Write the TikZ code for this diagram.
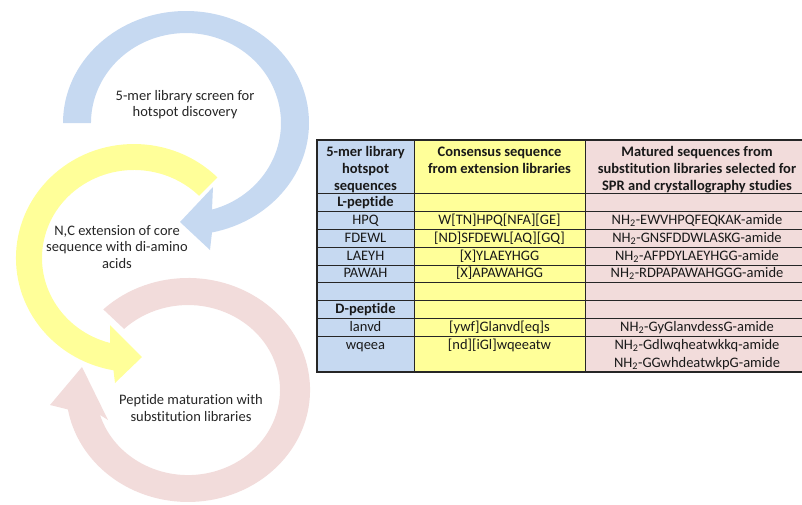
\documentclass[tikz,border=0pt]{standalone}
\usepackage{fontspec}
\setmainfont[Ligatures={NoCommon}]{Carlito}
\definecolor{arcblue}{HTML}{C6D9F1}
\definecolor{arcyellow}{HTML}{FFFF99}
\definecolor{arcpink}{HTML}{F2DCDB}
\definecolor{cellblue}{HTML}{C6D9F1}
\definecolor{cellyellow}{HTML}{FFFF99}
\definecolor{cellpink}{HTML}{F2DCDB}
\begin{document}
\begin{tikzpicture}[x=1pt,y=-1pt,
  lbl/.style={align=center,inner sep=0pt,font=\fontsize{14.5}{16.2}\selectfont,text=black!85},
  tx/.style={anchor=base,inner sep=0pt,font=\fontsize{14.5}{17.6}\selectfont,text=black!90},
  txb/.style={tx,font=\fontsize{14.5}{17.6}\selectfont\bfseries},
  gridline/.style={line width=0.9pt,draw=black!85},
  border/.style={line width=1.5pt,draw=black!85}]
\useasboundingbox (0,0) rectangle (802,504);
\clip (0,0) rectangle (802,504);
% circular arrows
\fill[arcpink] (103.3,309.4) arc[start angle=226,end angle=530,x radius=122,y radius=112]
  -- (50,405) -- (82,367) -- (108,420) -- (100,414.9)
  arc[start angle=523,end angle=226,x radius=92,y radius=85] -- cycle;
\fill[arcyellow] (217.4,177.4) arc[start angle=315,end angle=100,x radius=118,y radius=114]
  -- (115,383) -- (142,357) -- (110,325) -- (110.2,343.0)
  arc[start angle=105,end angle=315,x radius=92,y radius=88] -- cycle;
\fill[arcblue] (63,123) arc[start angle=180,end angle=437.8,x radius=123,y radius=112]
  -- (210,250) -- (180,222) -- (213,187) -- (212,209.6)
  arc[start angle=434.1,end angle=180,x radius=95,y radius=90] -- cycle;
\node[lbl] (lblue) at (185,105) {5-mer library screen for\\hotspot discovery};
\node[lbl] (lyellow) at (117,247) {N,C extension of core\\sequence with di-amino\\acids};
\node[lbl] (lpink) at (191,408) {Peptide maturation with\\substitution libraries};
% table
\fill[cellblue] (317,140) rectangle (414,372);
\fill[cellyellow] (414,140) rectangle (585,372);
\fill[cellpink] (585,140) rectangle (812,372);
\foreach \yy in {193,211,229,247,265,282,300,318,336}
  \draw[gridline] (317,\yy) -- (812,\yy);
\draw[gridline] (414,140) -- (414,372);
\draw[gridline] (585,140) -- (585,372);
\draw[border] (317,140) rectangle (812,372);
% header
\node[txb] (h1a) at (365.5,156) {5-mer library};
\node[txb] (h1b) at (365.5,173) {hotspot};
\node[txb] (h1c) at (365.5,190) {sequences};
\node[txb] (h2a) at (499.5,156) {Consensus sequence};
\node[txb] (h2b) at (499.5,173) {from extension libraries};
\node[txb] (h3a) at (697,156) {Matured sequences from};
\node[txb] (h3b) at (697,173) {substitution libraries selected for};
\node[txb] (h3c) at (697,190) {SPR and crystallography studies};
% body
\node[txb] (lpep) at (365.5,206.5) {L-peptide};
\node[tx] (r1a) at (365.5,224.5) {HPQ};
\node[tx] (r1b) at (499.5,224.5) {W[TN]HPQ[NFA][GE]};
\node[tx] (r1c) at (697,224.5) {NH\textsubscript{2}-EWVHPQFEQKAK-amide};
\node[tx] (r2a) at (365.5,242.5) {FDEWL};
\node[tx] (r2b) at (499.5,242.5) {[ND]SFDEWL[AQ][GQ]};
\node[tx] (r2c) at (697,242.5) {NH\textsubscript{2}-GNSFDDWLASKG-amide};
\node[tx] (r3a) at (365.5,260.5) {LAEYH};
\node[tx] (r3b) at (499.5,260.5) {[X]YLAEYHGG};
\node[tx] (r3c) at (697,260.5) {NH\textsubscript{2}-AFPDYLAEYHGG-amide};
\node[tx] (r4a) at (365.5,277.5) {PAWAH};
\node[tx] (r4b) at (499.5,277.5) {[X]APAWAHGG};
\node[tx] (r4c) at (697,277.5) {NH\textsubscript{2}-RDPAPAWAHGGG-amide};
\node[txb] (dpep) at (365.5,313.5) {D-peptide};
\node[tx] (r5a) at (365.5,331.5) {lanvd};
\node[tx] (r5b) at (499.5,331.5) {[ywf]Glanvd[eq]s};
\node[tx] (r5c) at (697,331.5) {NH\textsubscript{2}-GyGlanvdessG-amide};
\node[tx] (r6a) at (365.5,349.5) {wqeea};
\node[tx] (r6b) at (499.5,349.5) {[nd][iGl]wqeeatw};
\node[tx] (r6c) at (697,349.5) {NH\textsubscript{2}-Gdlwqheatwkkq-amide};
\node[tx] (r6d) at (697,367) {NH\textsubscript{2}-GGwhdeatwkpG-amide};
\end{tikzpicture}
\end{document}
